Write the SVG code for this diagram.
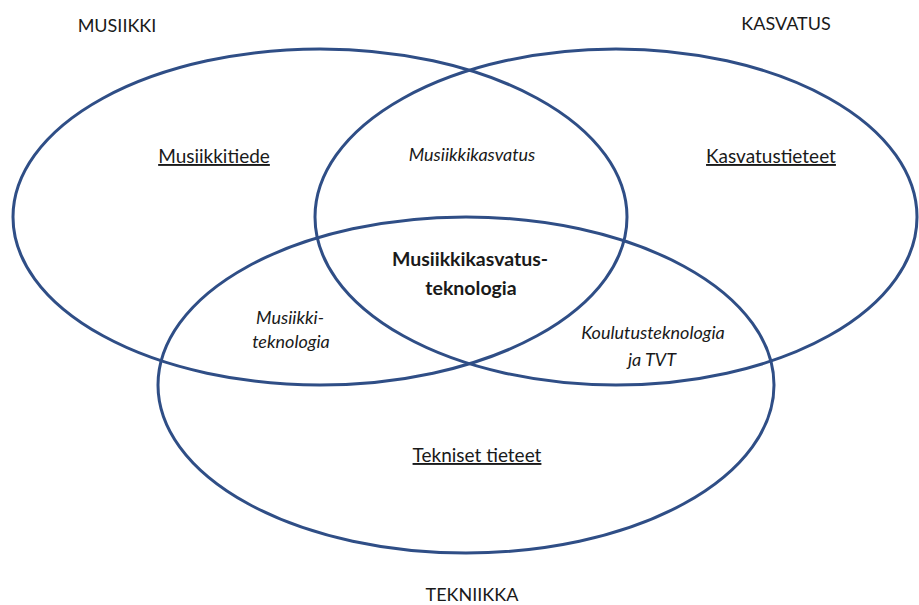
<svg xmlns="http://www.w3.org/2000/svg" width="919" height="605" viewBox="0 0 919 605">
<style>
.ring{fill:none;stroke:#2F4E86;stroke-width:3}
text{font-family:Lato,"Open Sans","Liberation Sans",sans-serif;fill:#1a1a1a;text-anchor:middle}
.cap{font-size:18px}
.area{font-size:19px;text-decoration:underline}
.it{font-size:18px;font-style:italic}
.bold{font-size:19.5px;font-weight:bold}
</style>
<rect width="919" height="605" fill="#ffffff"/>
<g id="musiikki">
<ellipse class="ring" cx="320" cy="217" rx="307" ry="168"/>
<text class="cap" x="117" y="32">MUSIIKKI</text>
<text class="area" x="214" y="163">Musiikkitiede</text>
</g>
<g id="kasvatus">
<ellipse class="ring" cx="616" cy="217" rx="301" ry="168"/>
<text class="cap" x="786" y="30">KASVATUS</text>
<text class="area" x="771" y="163">Kasvatustieteet</text>
</g>
<g id="tekniikka">
<ellipse class="ring" cx="466" cy="385" rx="308" ry="168"/>
<text class="cap" x="472" y="601">TEKNIIKKA</text>
<text class="area" x="477" y="462">Tekniset tieteet</text>
</g>
<g id="musiikkikasvatus">
<text class="it" x="472" y="161">Musiikkikasvatus</text>
</g>
<g id="musiikkiteknologia">
<text class="it" x="290" y="324">Musiikki-</text>
<text class="it" x="291" y="348">teknologia</text>
</g>
<g id="koulutusteknologia">
<text class="it" x="653" y="339">Koulutusteknologia</text>
<text class="it" x="652" y="366">ja TVT</text>
</g>
<g id="keskus">
<text class="bold" x="470" y="266">Musiikkikasvatus-</text>
<text class="bold" x="471" y="295">teknologia</text>
</g>
<g id="connectors"></g>
</svg>
